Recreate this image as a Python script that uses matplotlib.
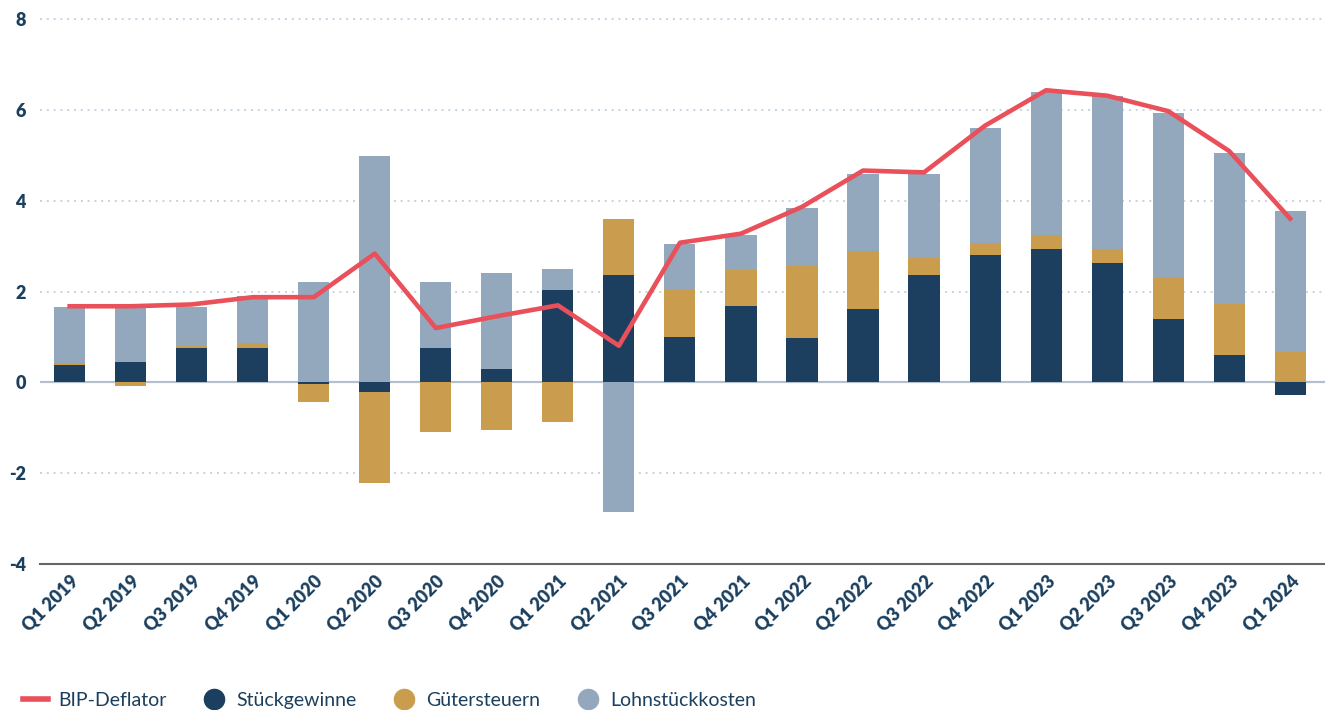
import numpy as np
import matplotlib.pyplot as plt
from matplotlib.lines import Line2D

plt.rcParams['font.family'] = ['Lato', 'DejaVu Sans']

NAVY = '#1c3f5f'; GOLD = '#c99c4e'; LIGHT = '#94a8bd'; RED = '#e9505a'
TXT = '#1b3f5e'; GRID = '#c5d3e3'; ZERO = '#b4c0ce'

quarters = ['Q1 2019', 'Q2 2019', 'Q3 2019', 'Q4 2019', 'Q1 2020', 'Q2 2020', 'Q3 2020',
            'Q4 2020', 'Q1 2021', 'Q2 2021', 'Q3 2021', 'Q4 2021', 'Q1 2022', 'Q2 2022',
            'Q3 2022', 'Q4 2022', 'Q1 2023', 'Q2 2023', 'Q3 2023', 'Q4 2023', 'Q1 2024']
stueckgewinne = [0.39, 0.46, 0.76, 0.76, -0.03, -0.21, 0.76, 0.30, 2.03, 2.37, 1.01,
                 1.69, 0.98, 1.61, 2.37, 2.82, 2.94, 2.63, 1.39, 0.60, -0.27]
guetersteuern = [0.03, -0.07, 0.04, 0.10, -0.40, -2.00, -1.09, -1.05, -0.87, 1.24, 1.02,
                 0.79, 1.58, 1.28, 0.38, 0.26, 0.30, 0.31, 0.94, 1.12, 0.68]
lohnstueckkosten = [1.24, 1.19, 0.86, 1.04, 2.21, 4.99, 1.45, 2.11, 0.46, -2.85, 1.03,
                    0.77, 1.29, 1.70, 1.85, 2.53, 3.16, 3.37, 3.61, 3.33, 3.11]
bip_deflator = [1.68, 1.68, 1.72, 1.88, 1.88, 2.84, 1.20, 1.46, 1.70, 0.81, 3.08,
                3.28, 3.87, 4.67, 4.63, 5.66, 6.44, 6.32, 5.98, 5.10, 3.61]

fig = plt.figure(figsize=(13.25, 7.1), dpi=100)
ax = fig.add_axes([0.030, 0.2056, 0.970, 0.7734])

x = np.arange(len(quarters))
pos = np.zeros(len(x)); neg = np.zeros(len(x))
for vals, col in [(stueckgewinne, NAVY), (guetersteuern, GOLD), (lohnstueckkosten, LIGHT)]:
    v = np.array(vals)
    bottom = np.where(v >= 0, pos, neg)
    ax.bar(x, v, bottom=bottom, width=0.51, color=col, edgecolor='none', zorder=2)
    pos = pos + np.where(v >= 0, v, 0)
    neg = neg + np.where(v < 0, v, 0)

ax.plot(x, bip_deflator, color=RED, lw=3.3, zorder=4, solid_joinstyle='round')

# dotted grid, solid zero line
for yv in [-2, 2, 4, 6, 8]:
    ax.axhline(yv, color=GRID, lw=1.4, ls=(0, (1, 2.5)), zorder=0, clip_on=False)
ax.axhline(0, color=ZERO, lw=1.6, zorder=1)

ax.set_xlim(-0.49, 20.57)
ax.set_ylim(-4, 8.1)
ax.set_yticks([-4, -2, 0, 2, 4, 6, 8])
ax.set_yticklabels(['-4', '-2', '0', '2', '4', '6', '8'], fontweight='heavy', color=TXT, fontsize=13)
ax.set_xticks(x)
ax.set_xticklabels(quarters, rotation=45, ha='right', va='top', rotation_mode='anchor',
                   fontweight='heavy', color=TXT, fontsize=13)
ax.tick_params(axis='both', length=0)
ax.tick_params(axis='y', pad=10)
ax.tick_params(axis='x', pad=6)
for s in ['top', 'right', 'left']:
    ax.spines[s].set_visible(False)
ax.spines['bottom'].set_color('#666666')
ax.spines['bottom'].set_linewidth(1.5)

handles = [Line2D([0], [0], color=RED, lw=4),
           Line2D([0], [0], marker='o', ls='none', markersize=14.5, color=NAVY),
           Line2D([0], [0], marker='o', ls='none', markersize=14.5, color=GOLD),
           Line2D([0], [0], marker='o', ls='none', markersize=14.5, color=LIGHT)]
labels = ['BIP-Deflator', 'Stückgewinne', 'Gütersteuern', 'Lohnstückkosten']
leg = fig.legend(handles, labels, loc='center left', bbox_to_anchor=(0.004, 0.013), ncol=4,
                 frameon=False, fontsize=14, handlelength=1.3, handletextpad=0.5,
                 columnspacing=1.8)
for t in leg.get_texts():
    t.set_color(TXT)

fig.savefig('out.png', dpi=100)
